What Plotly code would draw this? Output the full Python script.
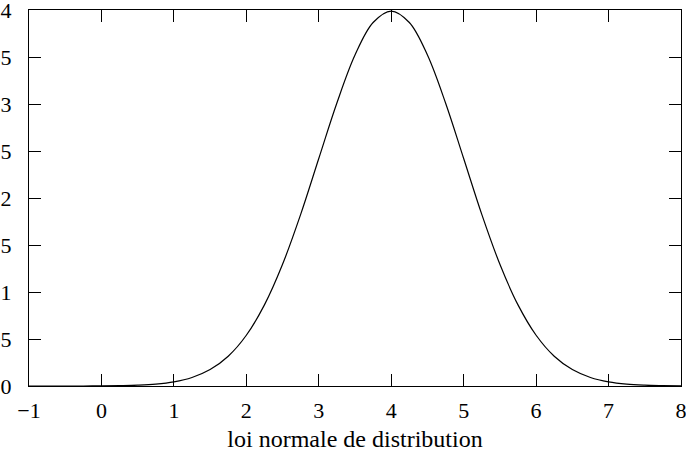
import plotly.graph_objects as go

# x positions (step 0.25) and density values
x_vals = [-1.0, -0.75, -0.5, -0.25, 0.0, 0.25, 0.5, 0.75, 1.0, 1.25, 1.5, 1.75,
          2.0, 2.25, 2.5, 2.75, 3.0, 3.25, 3.5, 3.75, 4.0, 4.25, 4.5, 4.75,
          5.0, 5.25, 5.5, 5.75, 6.0, 6.25, 6.5, 6.75, 7.0, 7.25, 7.5, 7.75, 8.0]
y_vals = [0.0000, 0.0000, 0.0000, 0.0000, 0.0001, 0.0004, 0.0009, 0.0020,
          0.0044, 0.0091, 0.0175, 0.0317, 0.0540, 0.0863, 0.1295, 0.1826,
          0.2420, 0.3011, 0.3521, 0.3867, 0.3989, 0.3867, 0.3521, 0.3011,
          0.2420, 0.1826, 0.1295, 0.0863, 0.0540, 0.0317, 0.0175, 0.0091,
          0.0044, 0.0020, 0.0009, 0.0004, 0.0001]

x_title = "loi normale de distribution"

fig = go.Figure()
fig.add_trace(go.Scatter(x=x_vals, y=y_vals, mode="lines",
                         line=dict(color="black", width=1.2, shape="spline"),
                         showlegend=False, hoverinfo="skip"))

font = dict(family="Liberation Serif, Times New Roman, serif", size=22, color="black")

fig.update_layout(
    width=686, height=452,
    margin=dict(l=29, r=5, t=10, b=66, autoexpand=False),
    paper_bgcolor="white", plot_bgcolor="white",
    font=font,
    xaxis=dict(range=[-1, 8], dtick=1, tick0=-1, ticks="inside", ticklen=12,
               tickwidth=1, tickcolor="black", showline=True, linecolor="black",
               linewidth=1, mirror="ticks", showgrid=False, zeroline=False,
               automargin=False, ticklabeloverflow="allow", ticklabelstandoff=5,
               title=dict(text=x_title, font=dict(size=24), standoff=8)),
    yaxis=dict(range=[0, 0.40001], dtick=0.05, tick0=0, ticks="inside", ticklen=12,
               tickwidth=1, tickcolor="black", showline=True, linecolor="black",
               linewidth=1, mirror="ticks", showgrid=False, zeroline=False,
               automargin=False, ticklabeloverflow="allow", ticklabelstandoff=12),
)

fig.write_html("out.html")
